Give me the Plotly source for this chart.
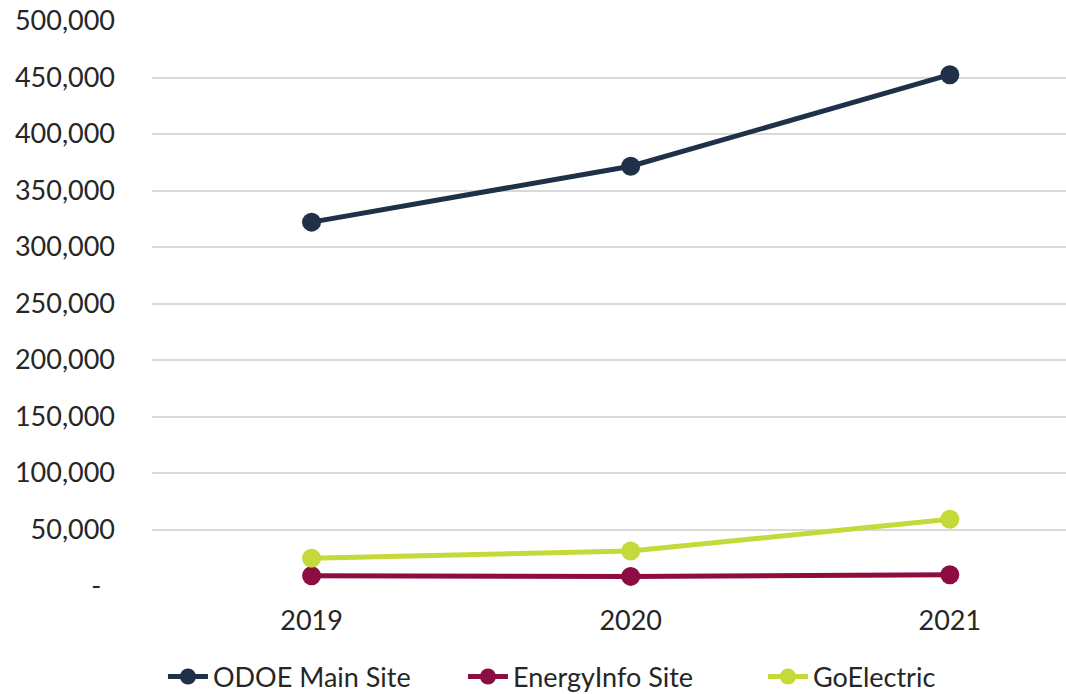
import plotly.graph_objects as go

years = ["2019", "2020", "2021"]
odoe_main = [322000, 371500, 452500]
energyinfo = [9000, 8500, 10000]
goelectric = [24500, 31000, 59000]

series_names = ["ODOE Main Site", "EnergyInfo Site", "GoElectric"]
colors = ["#1F3049", "#8B0D42", "#C5D93A"]

ytick_vals = [0, 50000, 100000, 150000, 200000, 250000, 300000, 350000, 400000, 450000, 500000]
ytick_text = ["-  ", "50,000", "100,000", "150,000", "200,000", "250,000",
              "300,000", "350,000", "400,000", "450,000", "500,000"]

fig = go.Figure()
for name, vals, c in zip(series_names, [odoe_main, energyinfo, goelectric], colors):
    fig.add_trace(go.Scatter(
        x=years, y=vals, name=name, mode="lines+markers",
        line=dict(color=c, width=5),
        marker=dict(color=c, size=19),
    ))

font_family = "Lato, 'Open Sans', sans-serif"
fig.update_layout(
    width=1066, height=694,
    margin=dict(l=152, r=0, t=21, b=108, autoexpand=False),
    paper_bgcolor="white", plot_bgcolor="white",
    font=dict(family=font_family, size=27, color="#262626"),
    showlegend=True,
    legend=dict(orientation="h", xref="paper", yref="paper",
                x=0.012, y=-0.161, xanchor="left", yanchor="middle",
                font=dict(size=27, color="#262626"), itemwidth=40,
                entrywidth=245, entrywidthmode="pixels",
                tracegroupgap=0),
    xaxis=dict(type="category", range=[-0.5, 2.364], showgrid=False,
               showline=False, zeroline=False, ticks="", ticklabelstandoff=16,
               automargin=False, tickfont=dict(size=27)),
    yaxis=dict(range=[0, 500000], tickvals=ytick_vals, ticktext=ytick_text,
               showgrid=True, gridcolor="#D9D9D9", gridwidth=1.5,
               zeroline=False, showline=False, ticks="", ticklabelstandoff=36,
               automargin=False, tickfont=dict(size=27)),
)

fig.write_html("out.html", config={"displayModeBar": False},
               post_script="document.body.style.margin='0px';")
